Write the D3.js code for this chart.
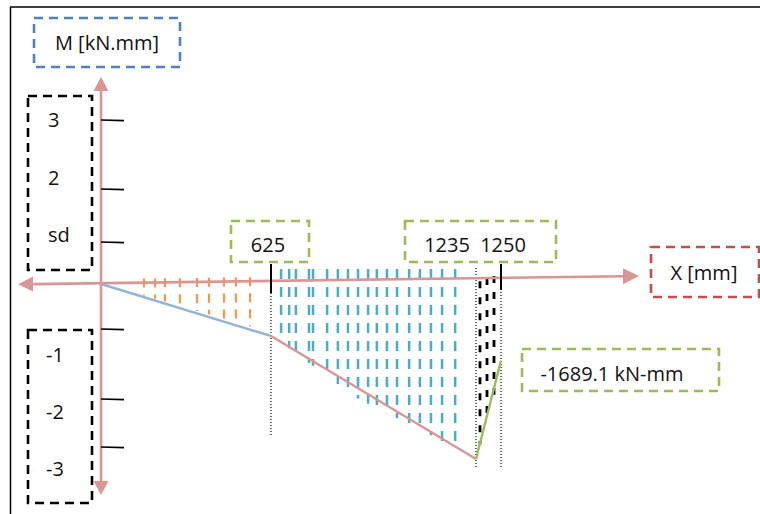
<!DOCTYPE html>
<html>
<head>
<meta charset="utf-8">
<script src="https://cdn.jsdelivr.net/npm/d3@7"></script>
<style>
  html, body { margin: 0; padding: 0; background: #fff; }
  svg { display: block; }
  text { font-family: "Open Sans", "Noto Sans", sans-serif; fill: #111; }
</style>
</head>
<body>
<svg id="chart" width="760" height="514"></svg>
<script>
// Key stations along the member [mm] and bending moment in diagram units
const stations = [0, 625, 1235, 1250];
const moments = [0, -1.1, -3.25, -1.45];
const segmentColors = ["#95B3D7", "#D99694", "#9BBB59"];

// Vertical scale ticks and their labels
const tickValues = [3, 2, 1, -1, -2, -3];
const upperLabels = ["3", "2", "sd"];
const lowerLabels = ["-1", "-2", "-3"];

// Station labels
const stationLabels = ["625", "1235", "1250"];
const peakLabel = "-1689.1 kN-mm";

// Hatch column positions [mm] for each region of the diagram
const hatchOrange = [158, 199, 235, 290, 353, 397, 452, 496, 548];
const hatchCyan = [655, 679, 699, 738, 750, 792, 824, 854, 884, 914, 940, 970, 1000, 1036, 1068, 1101, 1134, 1173];
const hatchBlack = [1237.4, 1241.6, 1245.8];

const svg = d3.select("#chart");

const x = d3.scaleLinear().domain(stations).range([101, 271, 476, 501]);
const y = d3.scaleLinear().domain([3, 2, 1, 0, -1, -2, -3]).range([120, 189, 242, 284, 329, 399, 447]);
const momentAt = d3.scaleLinear().domain(stations).range(moments);

const axisColor = "#D99694";
// x-axis is drawn with a slight rise toward the right
const axisLeft = [18, 284.3], axisRight = [639, 276];
const axisY = px => axisLeft[1] + (px - axisLeft[0]) * (axisRight[1] - axisLeft[1]) / (axisRight[0] - axisLeft[0]);

// frame
svg.append("line").attr("x1", 10).attr("y1", 7).attr("x2", 760).attr("y2", 7).attr("stroke", "#000").attr("stroke-width", 1.5);
svg.append("line").attr("x1", 10.5).attr("y1", 7).attr("x2", 10.5).attr("y2", 514).attr("stroke", "#000").attr("stroke-width", 1.5);

// dashed label boxes
function box(x0, y0, x1, y1, color, dash) {
  svg.append("rect")
    .attr("x", x0).attr("y", y0).attr("width", x1 - x0).attr("height", y1 - y0)
    .attr("fill", "none").attr("stroke", color).attr("stroke-width", 2.6)
    .attr("stroke-dasharray", dash || "9,6");
}
box(34, 18, 180, 67, "#4F81BD");
box(28, 96, 92, 270, "#000", "9,6");
box(28, 330, 92, 503, "#000", "9,6");
box(231, 221, 309, 262, "#9BBB59");
box(405, 221, 556, 262, "#9BBB59");
box(651, 247, 759, 297, "#C0504D");
box(522, 349, 719, 391, "#9BBB59");

// hatching under the moment diagram
function hatch(cols, color, width, dash, topOffset) {
  svg.append("g").selectAll("line").data(cols).join("line")
    .attr("x1", d => x(d)).attr("x2", d => x(d))
    .attr("y1", (d, i) => topOffset(x(d), i))
    .attr("y2", d => y(momentAt(d)) - 1)
    .attr("stroke", color).attr("stroke-width", width)
    .attr("stroke-dasharray", dash);
}
hatch(hatchOrange, "#F79646", 2.2, "9,7", px => axisY(px) - 4);
hatch(hatchCyan, "#4BACC6", 2.5, "10,8", () => 269);
hatch(hatchBlack, "#000", 2.8, "7,9", (px, i) => axisY(px) + [3, 0, -2][i]);

// dotted guides at the stations
const guides = [[625, 290, 436], [1235, 268, 468], [1250, 268, 468]];
svg.append("g").selectAll("line").data(guides).join("line")
  .attr("x1", d => x(d[0])).attr("x2", d => x(d[0]))
  .attr("y1", d => d[1]).attr("y2", d => d[2])
  .attr("stroke", "#000").attr("stroke-width", 1.2).attr("stroke-dasharray", "1,2");

// axes
svg.append("line").attr("x1", 33).attr("y1", axisY(33)).attr("x2", 624).attr("y2", axisY(624))
  .attr("stroke", axisColor).attr("stroke-width", 2.6);
svg.append("path").attr("fill", axisColor)
  .attr("d", `M${axisLeft[0]},${axisLeft[1]} L33,${axisY(33) - 7.5} L33,${axisY(33) + 7.5} Z`);
svg.append("path").attr("fill", axisColor)
  .attr("d", `M${axisRight[0]},${axisRight[1]} L623,${axisY(623) - 8} L623,${axisY(623) + 8} Z`);

const ax = x(0);
svg.append("line").attr("x1", ax).attr("y1", 90).attr("x2", ax).attr("y2", 482)
  .attr("stroke", axisColor).attr("stroke-width", 2.6);
svg.append("path").attr("fill", axisColor).attr("d", `M${ax},77 L${ax - 7.5},91 L${ax + 7.5},91 Z`);
svg.append("path").attr("fill", axisColor).attr("d", `M${ax},495 L${ax - 7.5},481 L${ax + 7.5},481 Z`);

// y ticks
svg.append("g").selectAll("line").data(tickValues).join("line")
  .attr("x1", ax).attr("x2", ax + 23)
  .attr("y1", d => y(d)).attr("y2", d => y(d) + 0.6)
  .attr("stroke", "#000").attr("stroke-width", 1.6);

// station ticks on the x-axis
svg.append("g").selectAll("line").data([625, 1250]).join("line")
  .attr("x1", d => x(d)).attr("x2", d => x(d))
  .attr("y1", 264).attr("y2", d => axisY(x(d)) + 12)
  .attr("stroke", "#000").attr("stroke-width", 2);

// moment diagram segments
const segs = d3.range(stations.length - 1).map(i => ({
  x1: stations[i], m1: moments[i], x2: stations[i + 1], m2: moments[i + 1], c: segmentColors[i]
}));
svg.append("g").selectAll("line").data(segs).join("line")
  .attr("x1", d => x(d.x1)).attr("y1", d => y(d.m1))
  .attr("x2", d => x(d.x2)).attr("y2", d => y(d.m2))
  .attr("stroke", d => d.c).attr("stroke-width", 2.4);

// texts
const t = (s, tx, ty, anchor) => svg.append("text").attr("x", tx).attr("y", ty)
  .attr("text-anchor", anchor || "start").attr("font-size", 20).text(s);

t("M [kN.mm]", 107, 50, "middle");
t("X [mm]", 704, 280, "middle");
t(peakLabel, 612, 381, "middle");
t(stationLabels[0], 268, 252, "middle");
t(stationLabels[1], 447, 252, "middle");
t(stationLabels[2], 503, 252, "middle");

const upperY = d3.scalePoint().domain(upperLabels).range([127, 242]);
const lowerY = d3.scalePoint().domain(lowerLabels).range([362, 476]);
svg.append("g").selectAll("text").data(upperLabels).join("text")
  .attr("x", 48).attr("y", d => upperY(d)).attr("font-size", 20).text(d => d);
svg.append("g").selectAll("text").data(lowerLabels).join("text")
  .attr("x", 46).attr("y", d => lowerY(d)).attr("font-size", 20).text(d => d);
</script>
</body>
</html>
